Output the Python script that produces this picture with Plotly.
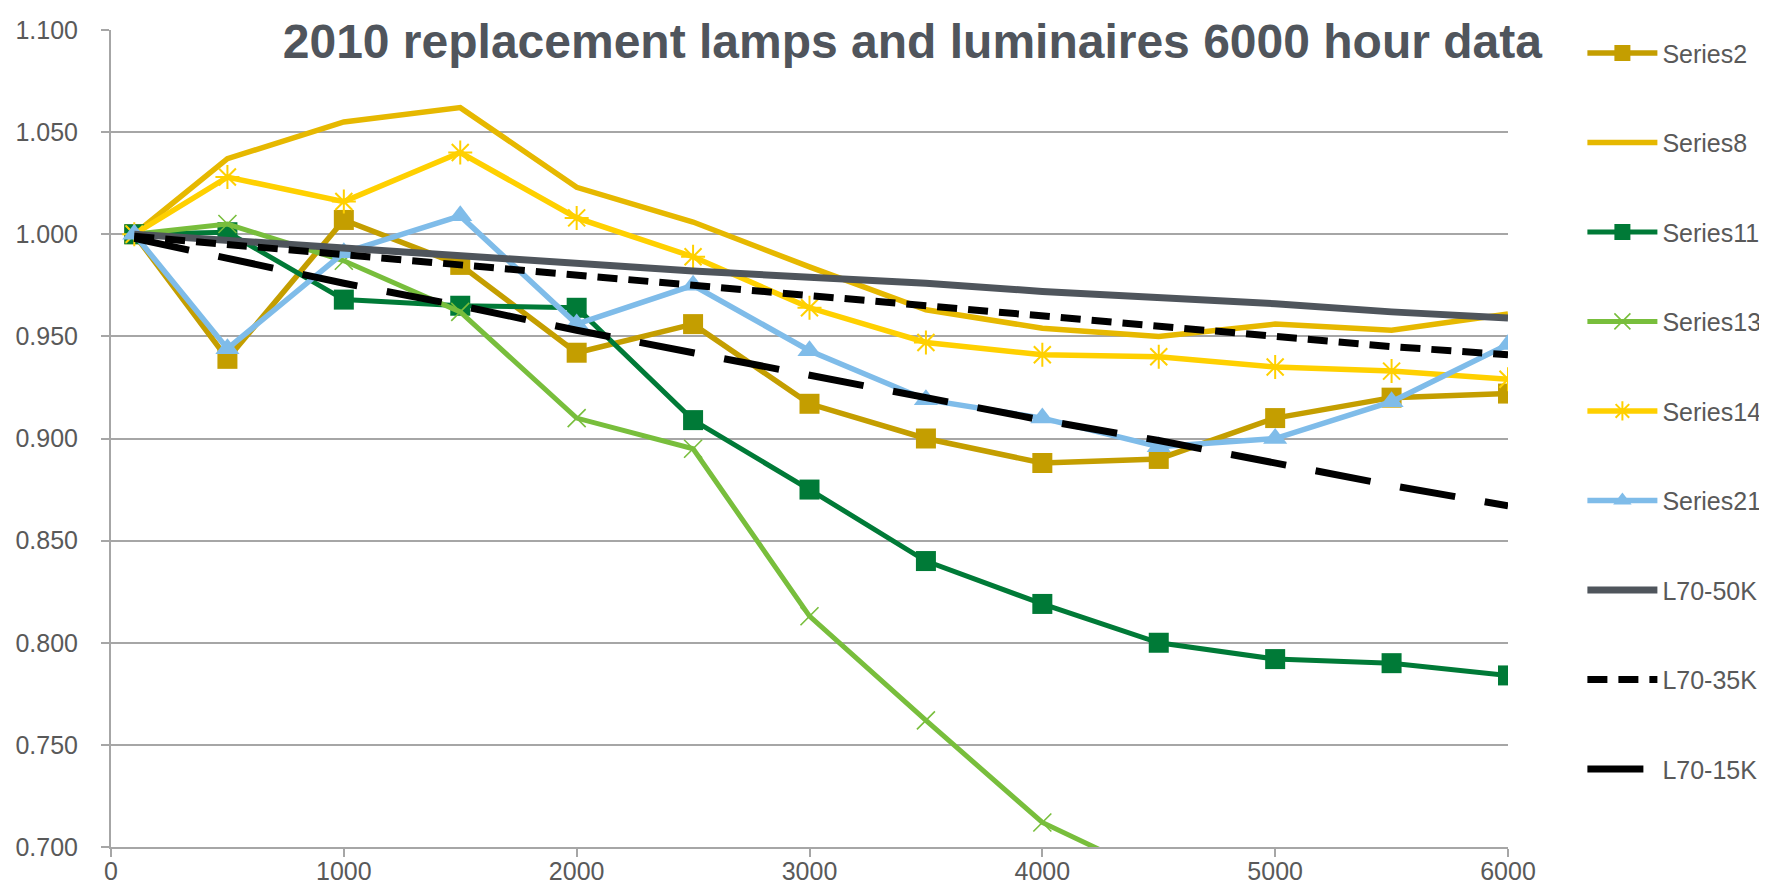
import plotly.graph_objects as go

hours = [100, 500, 1000, 1500, 2000, 2500, 3000, 3500, 4000, 4500, 5000, 5500, 6000]

series2 = [1.000, 0.939, 1.007, 0.985, 0.942, 0.956, 0.917, 0.900, 0.888, 0.890, 0.910, 0.920, 0.922]
series8 = [1.000, 1.037, 1.055, 1.062, 1.023, 1.006, 0.984, 0.963, 0.954, 0.950, 0.956, 0.953, 0.961]
series11 = [1.000, 1.001, 0.968, 0.965, 0.964, 0.909, 0.875, 0.840, 0.819, 0.800, 0.792, 0.790, 0.784]
series13_hours = [100, 500, 1000, 1500, 2000, 2500, 3000, 3500, 4000, 4500]
series13 = [1.000, 1.005, 0.987, 0.962, 0.910, 0.895, 0.813, 0.762, 0.712, 0.685]
series14 = [1.000, 1.028, 1.016, 1.040, 1.008, 0.989, 0.964, 0.947, 0.941, 0.940, 0.935, 0.933, 0.929]
series21 = [1.000, 0.944, 0.991, 1.009, 0.956, 0.975, 0.943, 0.919, 0.910, 0.896, 0.900, 0.918, 0.946]
l70_50k = [1.000, 0.997, 0.993, 0.989, 0.986, 0.982, 0.979, 0.976, 0.972, 0.969, 0.966, 0.962, 0.959]
l70_35k = [0.999, 0.995, 0.990, 0.985, 0.980, 0.975, 0.970, 0.965, 0.960, 0.955, 0.950, 0.945, 0.941]
l70_15k = [0.998, 0.988, 0.976, 0.965, 0.953, 0.942, 0.931, 0.920, 0.909, 0.899, 0.888, 0.877, 0.867]

y_ticks = [0.70, 0.75, 0.80, 0.85, 0.90, 0.95, 1.00, 1.05, 1.10]
x_ticks = [0, 1000, 2000, 3000, 4000, 5000, 6000]

FONT = "Liberation Sans, Arial, sans-serif"
TXT = "#595959"

fig = go.Figure()


def add(name, x, y, color, width=5, symbol=None, msize=20, dash="solid", open_marker=False, mlw=2):
    kw = dict(x=x, y=y, name=name, legendgroup=name,
              line=dict(color=color, width=width, dash=dash))
    if symbol is None:
        kw["mode"] = "lines"
    else:
        kw["mode"] = "lines+markers"
        if open_marker:
            kw["marker"] = dict(symbol=symbol, size=msize, color=color,
                                line=dict(color=color, width=mlw))
        else:
            kw["marker"] = dict(symbol=symbol, size=msize, color=color,
                                line=dict(width=0))
    fig.add_trace(go.Scatter(**kw))


add("Series2", hours, series2, "#C49E00", width=5.5, symbol="square", msize=20)
add("Series8", hours, series8, "#E6B800", width=5.5)
add("Series11", hours, series11, "#007A37", width=5, symbol="square", msize=20)
add("Series13", series13_hours, series13, "#78BE3C", width=5, symbol="x-thin", msize=18,
    open_marker=True, mlw=1.6)
add("Series14", hours, series14, "#FFD000", width=5.5, symbol="asterisk-open", msize=20,
    open_marker=True, mlw=2)
add("Series21", hours, series21, "#7FBCE9", width=5.5, symbol="triangle-up", msize=21)
add("L70-50K", hours, l70_50k, "#4F555C", width=7)
add("L70-35K", hours, l70_35k, "#000000", width=7, dash="20px,11px")
add("L70-15K", hours, l70_15k, "#000000", width=7, dash="56px,30px")

fig.update_layout(
    width=1767, height=886,
    paper_bgcolor="white", plot_bgcolor="white",
    margin=dict(l=103, r=267, t=22, b=47, autoexpand=False),
    font=dict(family=FONT, size=25, color=TXT),
    title=dict(text="<b>2010 replacement lamps and luminaires 6000 hour data</b>",
               font=dict(family=FONT, size=48, color="#50555C"),
               xref="container", x=0.5118, xanchor="center",
               yref="container", y=0.981, yanchor="top"),
    legend=dict(xref="container", yref="container", x=0.891, y=0.975,
                xanchor="left", yanchor="top", maxheight=886,
                font=dict(family=FONT, size=25, color=TXT),
                tracegroupgap=54, itemwidth=70, bgcolor="rgba(0,0,0,0)"),
    showlegend=True,
)

fig.update_xaxes(range=[0, 6000], tickvals=x_ticks, ticktext=[str(v) for v in x_ticks],
                 showgrid=False, zeroline=False,
                 showline=True, linecolor="#A6A6A6", linewidth=2,
                 ticks="outside", ticklen=8, tickwidth=1.5, tickcolor="#A6A6A6",
                 ticklabelstandoff=-7,
                 tickfont=dict(family=FONT, size=25, color=TXT))
fig.update_yaxes(range=[0.7, 1.1], tickvals=y_ticks, ticktext=[f"{v:.3f}" for v in y_ticks],
                 showgrid=True, gridcolor="#A6A6A6", gridwidth=1.5, zeroline=False,
                 showline=True, linecolor="#A6A6A6", linewidth=2,
                 ticks="outside", ticklen=8, tickwidth=1.5, tickcolor="#A6A6A6",
                 ticklabelstandoff=18,
                 tickfont=dict(family=FONT, size=25, color=TXT))

fig.write_html("out.html")
